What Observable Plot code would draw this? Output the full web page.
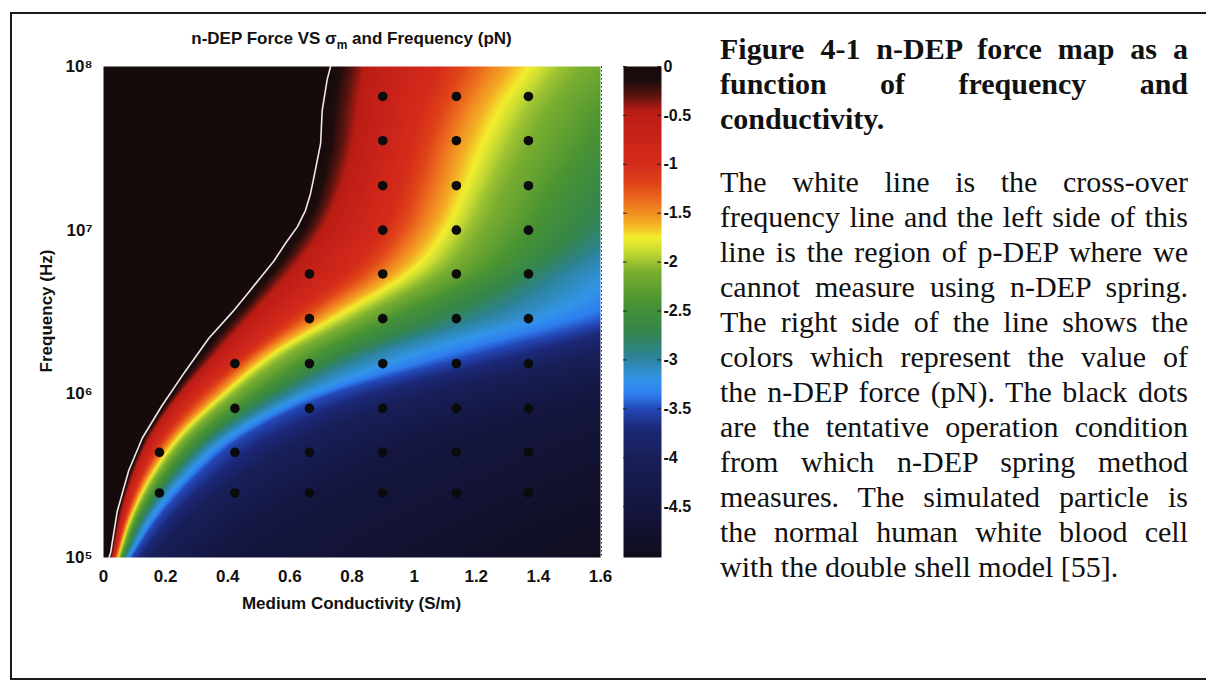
<!DOCTYPE html>
<html>
<head>
<meta charset="utf-8">
<script src="https://cdn.jsdelivr.net/npm/d3@7"></script>
<script src="https://cdn.jsdelivr.net/npm/@observablehq/plot@0.6"></script>
<style>
  html, body { margin: 0; padding: 0; background: #fff; }
  body { width: 1206px; height: 681px; position: relative; overflow: hidden;
         font-family: Arial, "Liberation Sans", sans-serif; color: #111; }
  #frame { position: absolute; left: 10px; top: 12px; width: 1230px; height: 668px;
           border: 2px solid #1a1a1a; box-sizing: border-box; }
  .abs { position: absolute; }
  #title { left: 103px; width: 497px; top: 29px; text-align: center;
           font-weight: bold; font-size: 17px; white-space: nowrap; }
  #title sub { font-size: 12px; vertical-align: -5px; }
  #ylabel { left: 47px; top: 311px; transform: translate(-50%, -50%) rotate(-90deg);
            font-weight: bold; font-size: 17px; white-space: nowrap; }
  #xlabel { left: 103px; width: 497px; top: 594px; text-align: center;
            font-weight: bold; font-size: 17px; white-space: nowrap; }
  .caption { left: 720px; width: 468px; font-family: "Liberation Serif", "Times New Roman", serif;
             font-size: 30px; line-height: 35px; color: #111; }
  .caption div { white-space: nowrap; text-align: justify; text-align-last: justify; }
  .caption div.last { text-align: left; text-align-last: left; }
  #capTitle { top: 31px; font-weight: bold; }
  #capBody { top: 164px; }
  svg { overflow: visible; }
</style>
</head>
<body>
<div id="frame"></div>
<div id="chart" class="abs" style="left:0;top:0"></div>
<div id="bar" class="abs" style="left:600px;top:0"></div>
<div id="title" class="abs">n-DEP Force VS σ<sub>m</sub> and Frequency (pN)</div>
<div id="ylabel" class="abs">Frequency (Hz)</div>
<div id="xlabel" class="abs">Medium Conductivity (S/m)</div>
<div id="capTitle" class="abs caption">
  <div>Figure 4-1 n-DEP force map as a</div>
  <div>function of frequency and</div>
  <div class="last">conductivity.</div>
</div>
<div id="capBody" class="abs caption">
  <div>The white line is the cross-over</div>
  <div>frequency line and the left side of this</div>
  <div>line is the region of p-DEP where we</div>
  <div>cannot measure using n-DEP spring.</div>
  <div>The right side of the line shows the</div>
  <div>colors which represent the value of</div>
  <div>the n-DEP force (pN). The black dots</div>
  <div>are the tentative operation condition</div>
  <div>from which n-DEP spring method</div>
  <div>measures. The simulated particle is</div>
  <div>the normal human white blood cell</div>
  <div class="last">with the double shell model [55].</div>
</div>
<script>
// Axis ticks
const sigmaTicks = [0, 0.2, 0.4, 0.6, 0.8, 1, 1.2, 1.4, 1.6];
const freqTicks = [1e5, 1e6, 1e7, 1e8];
const forceTicks = [0, -0.5, -1, -1.5, -2, -2.5, -3, -3.5, -4, -4.5];

// Cross-over frequency line (force = 0): log10 frequency and medium conductivity (S/m)
const crossLogFreq = [5.0, 5.03, 5.28, 5.53, 5.73, 5.93, 6.14, 6.34, 6.51, 6.61, 6.71,
                      6.81, 6.92, 7.02, 7.12, 7.22, 7.32, 7.53, 7.73, 7.92, 8.0];
const crossSigma = [0.018, 0.023, 0.044, 0.081, 0.125, 0.189, 0.264, 0.339, 0.42, 0.463, 0.505,
                    0.548, 0.586, 0.624, 0.65, 0.666, 0.677, 0.699, 0.704, 0.72, 0.731];

// Force contours: conductivity (S/m) where the n-DEP force reaches each level,
// one value per frequency row (log10 Hz)
const logFreq = [5, 5.25, 5.5, 5.75, 6, 6.25, 6.5, 6.75, 7, 7.25, 7.5, 7.75, 8];
const sigmaAtM05 = [0.028, 0.055, 0.095, 0.155, 0.25, 0.37, 0.49, 0.61, 0.71, 0.77, 0.81, 0.83, 0.85];
const sigmaAtM10 = [0.036, 0.07, 0.12, 0.195, 0.31, 0.46, 0.62, 0.79, 0.90, 0.95, 0.99, 1.03, 1.08];
const sigmaAtM15 = [0.043, 0.083, 0.143, 0.232, 0.365, 0.516, 0.72, 0.92, 1.03, 1.09, 1.13, 1.19, 1.27];
const sigmaAtM20 = [0.05, 0.096, 0.165, 0.265, 0.41, 0.585, 0.83, 1.06, 1.17, 1.235, 1.30, 1.37, 1.47];
const sigmaAtM25 = [0.06, 0.115, 0.2, 0.32, 0.5, 0.72, 1.0, 1.27, 1.41, 1.5, 1.6, 1.7, 1.85];
const sigmaAtM30 = [0.072, 0.14, 0.24, 0.38, 0.6, 0.88, 1.28, 1.5, 1.7, 1.8, 1.9, 2.0, 2.15];
const sigmaAtM35 = [0.09, 0.18, 0.3, 0.46, 0.74, 1.22, 1.7, 1.9, 2.05, 2.15, 2.25, 2.35, 2.5];
const sigmaAtM40 = [0.15, 0.28, 0.45, 0.68, 1.05, 1.6, 2.0, 2.2, 2.35, 2.45, 2.55, 2.65, 2.8];
const sigmaAtM45 = [0.35, 0.55, 0.8, 1.1, 1.6, 2.1, 2.5, 2.7, 2.85, 2.95, 3.05, 3.15, 3.3];
const sigmaAtM50 = [1.7, 2.0, 2.4, 2.8, 3.1, 3.4, 3.6, 3.8, 3.95, 4.05, 4.15, 4.25, 4.4];

// Tentative operating conditions (black dots)
const dotSigma = [0.18, 0.423, 0.663, 0.899, 1.136, 1.368];
const dotFreq = [2.48e5, 4.39e5, 8.15e5, 1.53e6, 2.88e6, 5.4e6, 1.0e7, 1.87e7, 3.52e7, 6.56e7];
const dotFirstColumn = [0, 0, 1, 1, 2, 2, 3, 3, 3, 3];

// Colour map of the force (pN)
const colorStops = [-5, -4.5, -4, -3.7, -3.5, -3.35, -3.2, -2.95, -2.7, -2.4, -2.1, -1.9,
                    -1.75, -1.6, -1.4, -1.2, -1.0, -0.7, -0.45, -0.3, -0.15, 0];
const colorValues = ["#0f0d1c", "#141640", "#181f58", "#1c2878", "#2448b8", "#2f7ef0",
                     "#3294e8", "#2c8290", "#35864a", "#4a9432", "#7aae30", "#c2d832",
                     "#f2ee2e", "#f4ac24", "#ee7420", "#e04418", "#d42c1a", "#c8221a",
                     "#b81c14", "#5a1410", "#1e0c0c", "#150b0b"];

// Smooth monotone (Fritsch–Carlson) interpolation through the contour readings
function monotone(xs, ys) {
  const n = xs.length, d = [], m = new Array(n);
  for (let i = 0; i < n - 1; ++i) d.push((ys[i + 1] - ys[i]) / (xs[i + 1] - xs[i]));
  m[0] = d[0]; m[n - 1] = d[n - 2];
  for (let i = 1; i < n - 1; ++i) m[i] = d[i - 1] * d[i] <= 0 ? 0 : (d[i - 1] + d[i]) / 2;
  for (let i = 0; i < n - 1; ++i) {
    if (d[i] === 0) { m[i] = m[i + 1] = 0; continue; }
    const a = m[i] / d[i], b = m[i + 1] / d[i], s = a * a + b * b;
    if (s > 9) { const t = 3 / Math.sqrt(s); m[i] = t * a * d[i]; m[i + 1] = t * b * d[i]; }
  }
  return v => {
    if (v <= xs[0]) return ys[0];
    if (v >= xs[n - 1]) return ys[n - 1];
    let i = 0;
    while (v > xs[i + 1]) ++i;
    const h = xs[i + 1] - xs[i], t = (v - xs[i]) / h, t2 = t * t, t3 = t2 * t;
    return (2 * t3 - 3 * t2 + 1) * ys[i] + (t3 - 2 * t2 + t) * h * m[i]
         + (-2 * t3 + 3 * t2) * ys[i + 1] + (t3 - t2) * h * m[i + 1];
  };
}

// Piecewise-linear lookup, used for the cross-over line so the map agrees with the drawn line
function linear(xs, ys) {
  return v => {
    if (v <= xs[0]) return ys[0];
    for (let i = 1; i < xs.length; ++i) {
      if (v <= xs[i]) return ys[i - 1] + (v - xs[i - 1]) / (xs[i] - xs[i - 1]) * (ys[i] - ys[i - 1]);
    }
    return ys[ys.length - 1];
  };
}

const crossAt = linear(crossLogFreq, crossSigma);
const contourLevels = [
  [-0.5, sigmaAtM05], [-1.0, sigmaAtM10], [-1.5, sigmaAtM15], [-2.0, sigmaAtM20],
  [-2.5, sigmaAtM25], [-3.0, sigmaAtM30], [-3.5, sigmaAtM35], [-4.0, sigmaAtM40],
  [-4.5, sigmaAtM45], [-5.0, sigmaAtM50]
].map(([level, arr]) => [level, monotone(logFreq, arr)]);

// Force at (conductivity, frequency), read between the contour readings
function forceAt(sigma, freq) {
  const lf = Math.log10(freq);
  let prevS = crossAt(lf), prevL = 0;
  if (sigma <= prevS) return 0.2;
  for (const [level, at] of contourLevels) {
    const s = at(lf);
    if (s <= prevS) continue;
    if (sigma <= s) return prevL + (level - prevL) * (sigma - prevS) / (s - prevS);
    prevS = s; prevL = level;
  }
  return -5;
}

const crossData = crossLogFreq.map((lf, i) => ({freq: Math.pow(10, lf), sigma: crossSigma[i]}));
const dots = [];
dotFreq.forEach((f, i) => {
  for (let j = dotFirstColumn[i]; j < dotSigma.length; ++j) dots.push({sigma: dotSigma[j], freq: f});
});

const colorScale = {type: "linear", domain: colorStops, range: colorValues, clamp: true};
const sup = {"5": "\u2075", "6": "\u2076", "7": "\u2077", "8": "\u2078"};
const axisStyle = {fontFamily: "Arial, 'Liberation Sans', sans-serif", fontWeight: "bold",
                   fontSize: "17px", color: "#111", background: "transparent", overflow: "visible"};

const chart = Plot.plot({
  width: 620, height: 681,
  marginLeft: 103, marginRight: 20, marginTop: 66, marginBottom: 124,
  style: axisStyle,
  x: {domain: [0, 1.6], ticks: sigmaTicks, tickFormat: d => String(d), tickSize: 0, tickPadding: 12, label: null},
  y: {type: "log", domain: [1e5, 1e8], ticks: freqTicks,
      tickFormat: d => "10" + sup[String(Math.round(Math.log10(d)))], tickSize: 0, tickPadding: 11, label: null},
  color: colorScale,
  marks: [
    Plot.raster({x1: 0, x2: 1.6, y1: 1e5, y2: 1e8, fill: forceAt, pixelSize: 1}),
    Plot.line(crossData, {x: "sigma", y: "freq", stroke: "#f4e6e6", strokeWidth: 1.6}),
    Plot.dot(dots, {x: "sigma", y: "freq", r: 4.8, fill: "#0b0b0b"}),
    Plot.ruleX([1.6], {stroke: "#222", strokeDasharray: "1.5,2.5", dx: 1})
  ]
});
document.getElementById("chart").append(chart);

const bar = Plot.plot({
  width: 110, height: 681,
  marginLeft: 23, marginRight: 49, marginTop: 66, marginBottom: 124,
  style: {...axisStyle, fontSize: "16px"},
  x: {domain: [0, 1], axis: null},
  y: {domain: [-5.02, 0], ticks: forceTicks, tickFormat: d => String(d), axis: "right",
      tickSize: 0, tickPadding: 2, label: null},
  color: colorScale,
  marks: [
    Plot.raster({x1: 0, x2: 1, y1: -5.02, y2: 0, fill: (x, y) => y, pixelSize: 1}),
    Plot.ruleY(forceTicks, {x1: 0, x2: 0.1, stroke: "#222"}),
    Plot.ruleY(forceTicks, {x1: 0.9, x2: 1, stroke: "#222"})
  ]
});
document.getElementById("bar").append(bar);
</script>
</body>
</html>
